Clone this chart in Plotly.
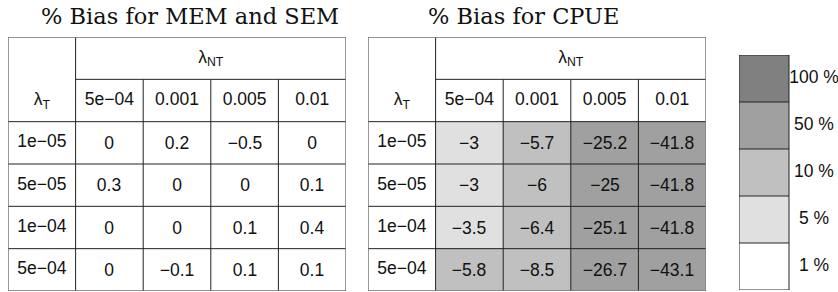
import plotly.graph_objects as go

# ---------------- data ----------------
col_labels = ["5e\u221204", "0.001", "0.005", "0.01"]          # lambda_NT
row_labels = ["1e\u221205", "5e\u221205", "1e\u221204", "5e\u221204"]  # lambda_T
mem_sem_bias = [
    [0, 0.2, -0.5, 0],
    [0.3, 0, 0, 0.1],
    [0, 0, 0.1, 0.4],
    [0, -0.1, 0.1, 0.1],
]
cpue_bias = [
    [-3, -5.7, -25.2, -41.8],
    [-3, -6, -25, -41.8],
    [-3.5, -6.4, -25.1, -41.8],
    [-5.8, -8.5, -26.7, -43.1],
]
legend_labels = ["1 %", "5 %", "10 %", "50 %", "100 %"]
breaks = [1, 5, 10, 50, 100]
grays = ["#ffffff", "#e0e0e0", "#c0c0c0", "#a0a0a0", "#808080"]
titles = ["% Bias for MEM and SEM", "% Bias for CPUE"]

W, H = 838, 292
CELL_FONT = dict(family="Liberation Sans, Arial, sans-serif", size=17.5, color="#111111")
TITLE_FONT = dict(family="DejaVu Serif, serif", size=22.5, color="#111111")
INNER = dict(color="#222222", width=1)
OUTER = dict(color="#707070", width=1.4)


def bin_of(v):
    a = abs(v)
    for i, b in enumerate(breaks):
        if a < b:
            return i
    return len(breaks) - 1


def fmt(v):
    return f"{v:g}".replace("-", "\u2212")


colorscale = []
n = len(grays)
for i, g in enumerate(grays):
    colorscale.append([i / n, g])
    colorscale.append([(i + 1) / n, g])

fig = go.Figure()
shapes = []

# table geometry in pixels -> domains
tables = [(8, 346), (368, 706)]
y_top, y_bot = 37, 291

ncol = len(col_labels) + 1
nrow = len(row_labels) + 2

for t, (vals, (px0, px1)) in enumerate(zip([mem_sem_bias, cpue_bias], tables)):
    xa = "x" if t == 0 else f"x{t+1}"
    ya = "y" if t == 0 else f"y{t+1}"
    xs = [c + 1.5 for c in range(len(col_labels))]
    ys = [r + 2.5 for r in range(len(row_labels))]
    z = [[bin_of(v) for v in row] for row in vals]
    txt = [[fmt(v) for v in row] for row in vals]
    fig.add_trace(go.Heatmap(
        x=xs, y=ys, z=z, text=txt, texttemplate="%{text}", textfont=CELL_FONT,
        colorscale=colorscale, zmin=-0.5, zmax=n - 0.5, showscale=False,
        hoverinfo="skip", xaxis=xa, yaxis=ya))
    # header texts and row labels
    fig.add_trace(go.Scatter(
        x=xs + [0.5] * len(row_labels) + [0.5, (1 + ncol) / 2],
        y=[1.5] * len(col_labels) + ys + [1.5, 0.5],
        text=col_labels + row_labels + ["\u03bb<sub>T</sub>", "\u03bb<sub>NT</sub>"],
        mode="text", textfont=CELL_FONT, hoverinfo="skip", showlegend=False,
        xaxis=xa, yaxis=ya))
    # grid lines
    for c in range(1, ncol):
        y0 = 0 if c == 1 else 1
        shapes.append(dict(type="line", xref=xa, yref=ya, x0=c, x1=c, y0=y0, y1=nrow, line=INNER))
    for r in range(1, nrow):
        x0 = 1 if r == 1 else 0
        shapes.append(dict(type="line", xref=xa, yref=ya, x0=x0, x1=ncol, y0=r, y1=r, line=INNER))
    shapes.append(dict(type="rect", xref=xa, yref=ya, x0=0, x1=ncol, y0=0, y1=nrow, line=OUTER))

    dom_x = [px0 / W, px1 / W]
    dom_y = [1 - y_bot / H, 1 - y_top / H]
    sfx = "" if t == 0 else str(t + 1)
    fig.layout[f"xaxis{sfx}"] = dict(domain=dom_x, range=[0, ncol], visible=False, fixedrange=True, anchor=ya)
    fig.layout[f"yaxis{sfx}"] = dict(domain=dom_y, range=[nrow, 0], visible=False, fixedrange=True, anchor=xa)

# ---------------- legend ----------------
lx0, lx1, lxe = 739, 789, 838
ly_top, ly_bot = 55, 290
nl = len(legend_labels)
lys = [i + 0.5 for i in range(nl)]
fig.add_trace(go.Heatmap(
    x=[0.5], y=lys, z=[[i] for i in range(nl)], colorscale=colorscale,
    zmin=-0.5, zmax=n - 0.5, showscale=False, hoverinfo="skip", xaxis="x3", yaxis="y3"))
fig.add_trace(go.Scatter(
    x=[1.5] * nl, y=lys, text=legend_labels, mode="text", textfont=CELL_FONT,
    hoverinfo="skip", showlegend=False, xaxis="x3", yaxis="y3", cliponaxis=False))
for i in range(1, nl):
    shapes.append(dict(type="line", xref="x3", yref="y3", x0=0, x1=1, y0=i, y1=i, line=INNER))
shapes.append(dict(type="rect", xref="x3", yref="y3", x0=0, x1=1, y0=0, y1=nl, line=INNER))
fig.layout.xaxis3 = dict(domain=[lx0 / W, 1], range=[0, (lxe - lx0) / (lx1 - lx0)], visible=False,
                         fixedrange=True, anchor="y3")
fig.layout.yaxis3 = dict(domain=[1 - ly_bot / H, 1 - ly_top / H], range=[0, nl], visible=False,
                         fixedrange=True, anchor="x3")

# titles
annotations = []
for ttl, xc in zip(titles, [190, 524]):
    annotations.append(dict(text=ttl, xref="paper", yref="paper", x=xc / W, y=1 - 16 / H,
                            xanchor="center", yanchor="middle", showarrow=False, font=TITLE_FONT))

fig.update_layout(
    width=W, height=H, margin=dict(l=0, r=0, t=0, b=0),
    paper_bgcolor="white", plot_bgcolor="white", showlegend=False,
    shapes=shapes, annotations=annotations,
)

fig.write_html("out.html", config={"displayModeBar": False},
               post_script="document.body.style.margin='0';document.body.style.padding='0';"
                           "document.body.style.overflow='hidden';")
